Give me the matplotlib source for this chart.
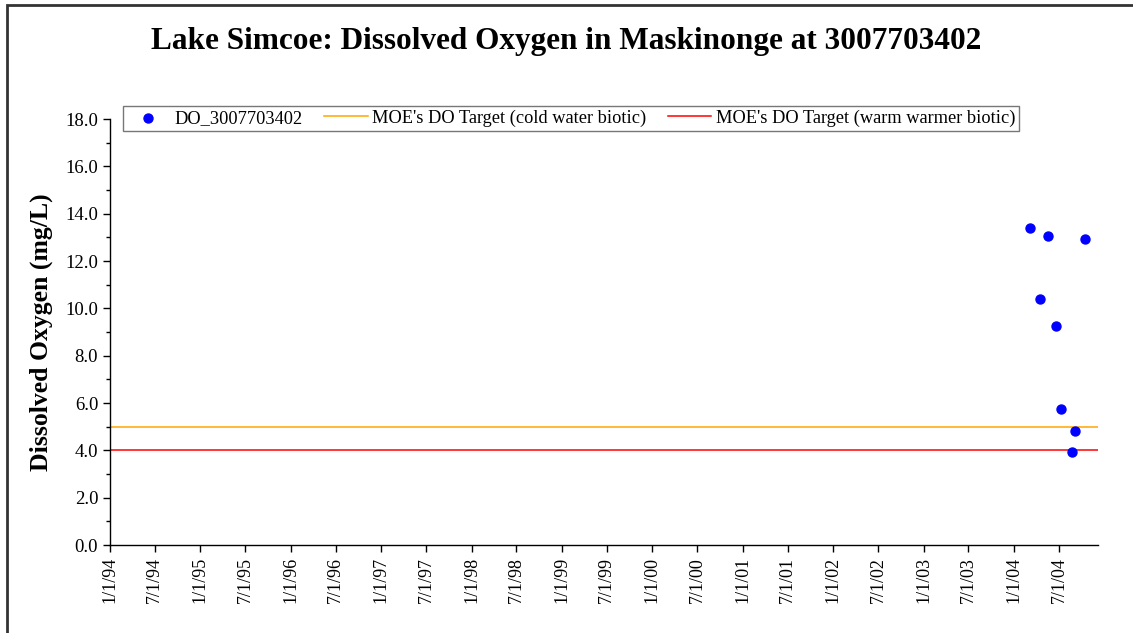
import matplotlib
matplotlib.use('Agg')
import matplotlib.pyplot as plt
import matplotlib.patches as patches
from matplotlib.ticker import MultipleLocator
import pandas as pd

# DO samples at station 3007703402
sample_dates = ['2004-03-07', '2004-04-15', '2004-05-17', '2004-06-19',
                '2004-07-08', '2004-08-22', '2004-09-05', '2004-10-13']
do_values = [13.38, 10.41, 13.05, 9.27, 5.75, 3.93, 4.80, 12.91]

# MOE targets
cold_target = 5.0
warm_target = 4.0

x_start = '1994-01-01'
x_end = '2004-12-05'

tick_labels = []
for yr in range(94, 105):
    tick_labels.append('1/1/%02d' % (yr % 100))
    tick_labels.append('7/1/%02d' % (yr % 100))

plt.rcParams['font.family'] = ['Liberation Serif', 'DejaVu Serif']

fig = plt.figure(figsize=(11.33, 6.33), dpi=100)
ax = fig.add_axes([0.0971, 0.139, 0.969 - 0.0971, 0.812 - 0.139])

dates = pd.to_datetime(sample_dates)
line_x = pd.to_datetime([x_start, x_end])

ax.scatter(dates, do_values, s=42, color='#0000FF', zorder=3, label='DO_3007703402')
ax.plot(line_x, [cold_target, cold_target], color='#FFA500', lw=1.1,
        label="MOE's DO Target (cold water biotic)")
ax.plot(line_x, [warm_target, warm_target], color='#FF0000', lw=1.1,
        label="MOE's DO Target (warm warmer biotic)")

ax.set_xlim(line_x[0], line_x[1])
ax.set_ylim(0, 18)

ticks = pd.date_range('1994-01-01', '2004-07-01', freq='6MS')
ax.set_xticks(ticks)
ax.set_xticklabels(tick_labels[:len(ticks)], rotation=90, fontsize=13)

ax.yaxis.set_major_locator(MultipleLocator(2))
ax.yaxis.set_minor_locator(MultipleLocator(1))
ax.yaxis.set_major_formatter(matplotlib.ticker.FormatStrFormatter('%.1f'))
ax.tick_params(axis='y', labelsize=13.5, direction='out', length=5, width=1)
ax.tick_params(axis='y', which='minor', direction='out', length=3, width=1)
ax.tick_params(axis='x', direction='out', length=5, width=1)

for s in ['top', 'right']:
    ax.spines[s].set_visible(False)
for s in ['left', 'bottom']:
    ax.spines[s].set_linewidth(1)

ax.set_ylabel('Dissolved Oxygen (mg/L)', fontsize=18.5, fontweight='bold', labelpad=9)

fig.text(0.5, 0.935, 'Lake Simcoe: Dissolved Oxygen in Maskinonge at 3007703402',
         ha='center', va='center', fontsize=22.5, fontweight='bold')

leg = ax.legend(loc='upper left', bbox_to_anchor=(123 / 1133, 1 - 106 / 633),
                bbox_transform=fig.transFigure, ncol=3, fontsize=13.2,
                frameon=True, fancybox=False, borderpad=0.2, handlelength=2.35,
                columnspacing=1.2, handletextpad=0.25, borderaxespad=0)
leg.get_frame().set_edgecolor('#555555')
leg.get_frame().set_linewidth(1)

# outer chart border (left and top edges visible)
border = patches.Rectangle((7 / 1133, -0.1), 1.2, (633 - 5) / 633 + 0.1,
                           transform=fig.transFigure, fill=False,
                           edgecolor='#333333', lw=2)
fig.patches.append(border)

fig.savefig('out.png', dpi=100)
